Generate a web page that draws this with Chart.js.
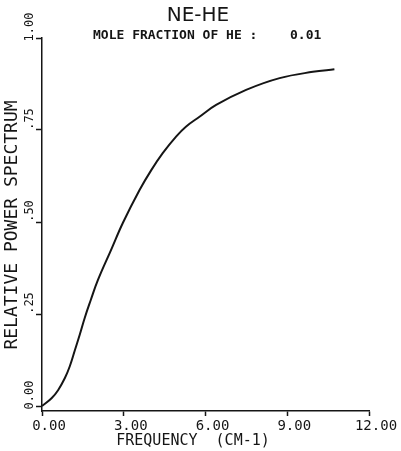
<!DOCTYPE html>
<html>
<head>
<meta charset="utf-8">
<script src="https://cdn.jsdelivr.net/npm/chart.js@4.4.0/dist/chart.umd.min.js"></script>
<style>
  html, body { margin: 0; padding: 0; background: #fff; }
  #wrap { width: 401px; height: 451px; }
</style>
</head>
<body>
<div id="wrap"><canvas id="spectrum"></canvas></div>
<script>
/* ================= DATA ================= */

const freqs = [0, 0.35, 0.59, 0.84, 1.02, 1.20, 1.39, 1.57, 1.79, 2.05, 2.54, 2.97, 3.58, 4.01, 4.43, 4.92, 5.28, 5.78, 6.39, 7.49, 8.72, 9.94, 10.73];
const power = [0, 0.021, 0.043, 0.076, 0.108, 0.150, 0.195, 0.240, 0.288, 0.342, 0.425, 0.498, 0.587, 0.641, 0.687, 0.732, 0.759, 0.786, 0.818, 0.859, 0.891, 0.908, 0.915];

const xTicks = [0, 3, 6, 9, 12];
const yTicks = [0, 0.25, 0.5, 0.75, 1];
const yTickLabels = ["0.00", ".25", ".50", ".75", "1.00"];

const chartTitle = "NE-HE";
const subTitle = "MOLE FRACTION OF HE :";
const subValue = "0.01";
const xTitle = "FREQUENCY  (CM-1)";
const yTitle = "RELATIVE POWER SPECTRUM";

/* ================= TEXT PLUGIN ================= */

const ink = "#151515";
const mono = "'DejaVu Sans Mono', monospace";

const labelsPlugin = {
  id: "plotLabels",
  afterDraw(chart) {
    const ctx = chart.ctx;
    ctx.save();
    ctx.fillStyle = ink;
    ctx.textBaseline = "middle";

    ctx.font = "20px 'DejaVu Sans'";
    ctx.textAlign = "center";
    ctx.fillText(chartTitle, 198, 16);

    ctx.font = "bold 13px " + mono;
    ctx.textAlign = "left";
    ctx.fillText(subTitle, 93, 36);
    ctx.fillText(subValue, 290, 36);

    ctx.font = "15px " + mono;
    ctx.textAlign = "center";
    ctx.fillText(xTitle, 193, 441);

    ctx.translate(12, 225);
    ctx.rotate(-Math.PI / 2);
    ctx.font = "18px " + mono;
    ctx.fillText(yTitle, 0, 0);
    ctx.restore();
  }
};

/* ================= CHART ================= */

const ctx = document.getElementById("spectrum");

new Chart(ctx, {
  type: "line",
  data: {
    datasets: [
      {
        data: freqs.map((f, i) => ({ x: f, y: power[i] })),
        borderColor: ink,
        borderWidth: 2,
        pointRadius: 0,
        fill: false,
        tension: 0.4
      }
    ]
  },
  options: {
    responsive: true,
    maintainAspectRatio: false,
    animation: false,
    layout: { padding: { left: 20, top: 38, right: 32, bottom: 0 } },
    plugins: {
      legend: { display: false },
      tooltip: { enabled: false }
    },
    scales: {
      x: {
        type: "linear",
        min: 0,
        max: 12,
        afterBuildTicks: s => { s.ticks = xTicks.map(v => ({ value: v })); },
        afterFit: s => {
          s.height = 40;
          s.paddingLeft = 0;
          s.paddingRight = 0;
        },
        grid: { drawOnChartArea: false, drawTicks: true, tickLength: 5, color: ink, tickWidth: 1.5 },
        border: { color: ink, width: 1.5 },
        ticks: {
          color: ink,
          font: { family: mono, size: 14 },
          padding: 2,
          labelOffset: 7,
          maxRotation: 0,
          callback: v => v.toFixed(2)
        }
      },
      y: {
        type: "linear",
        min: -5 / 368,
        max: 1,
        afterBuildTicks: s => { s.ticks = yTicks.map(v => ({ value: v })); },
        afterFit: s => {
          s.width = 22;
          s.paddingTop = 0;
          s.paddingBottom = 0;
        },
        grid: { drawOnChartArea: false, drawTicks: true, tickLength: 6, color: ink, tickWidth: 1.5 },
        border: { color: ink, width: 1.5 },
        ticks: {
          color: ink,
          font: { family: mono, size: 12 },
          minRotation: 90,
          maxRotation: 90,
          crossAlign: "center",
          padding: -8,
          labelOffset: -11,
          callback: v => yTickLabels[yTicks.indexOf(v)]
        }
      }
    }
  },
  plugins: [labelsPlugin]
});
</script>
</body>
</html>
